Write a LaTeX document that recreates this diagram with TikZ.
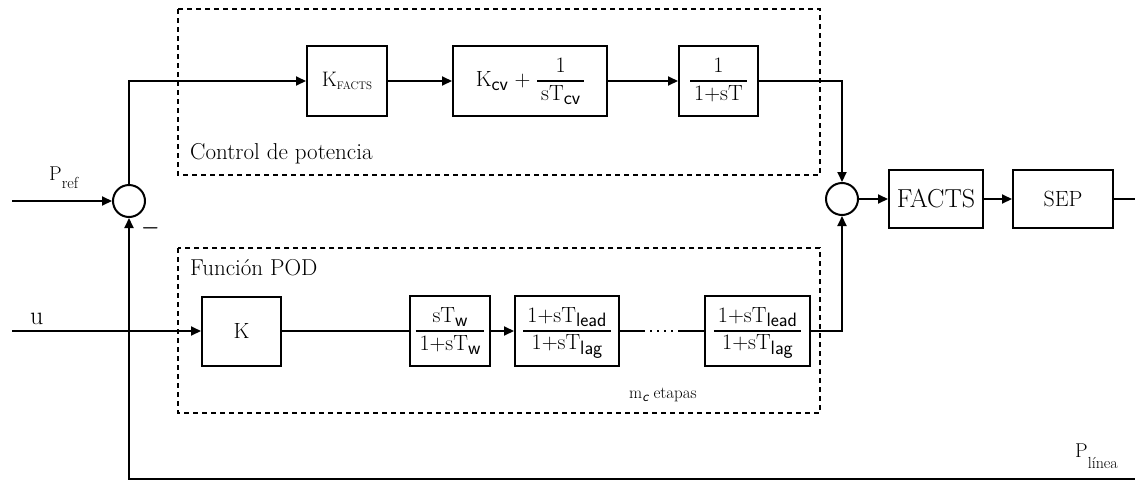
\documentclass[tikz,border=0pt]{standalone}
\usepackage{amsmath}
\usetikzlibrary{arrows.meta}
\setlength\arrayrulewidth{1.4pt}
\renewcommand\arraystretch{1.05}
% sans subscript, lowered and reduced
\newcommand\ssub[1]{\raisebox{-.45ex}{\scalebox{.88}{\sffamily #1}}}
% serif subscript for signal names
\newcommand\tsub[2][1ex]{\raisebox{-#1}{\scalebox{.8}{#2}}}
% stacked transfer-function fraction
\newcommand\fr[2]{\begin{tabular}{@{\hspace{4pt}}c@{\hspace{4pt}}}#1\\\hline #2\end{tabular}}
\tikzset{
  blk/.style={draw, line width=2pt, inner sep=0pt, minimum height=70pt,
              font=\fontsize{22}{25}\selectfont},
  sumj/.style={draw, circle, line width=2pt, minimum size=32pt, inner sep=0pt},
  wire/.style={line width=2pt},
  arr/.style={wire, -{Triangle[length=10pt,width=9pt]}},
  grp/.style={line width=2pt, dash pattern=on 5pt off 4pt},
  lbl/.style={inner sep=0pt, font=\fontsize{23}{26}\selectfont},
  sig/.style={inner sep=0pt, font=\fontsize{20}{23}\selectfont},
}
\begin{document}
\begin{tikzpicture}[x=1pt,y=-1pt]
\useasboundingbox (0,0) rectangle (1135,482);

% dashed group frames
\draw[grp] (178,9) rectangle (820,175);
\draw[grp] (178,248) rectangle (820,413);
\node[lbl,anchor=base west] (lc) at (190,159) {Control de potencia};
\node[lbl,anchor=base west] (lp) at (190,275) {Función POD};

% power control chain
\node[blk,minimum width=80pt,font=\fontsize{21}{23}\selectfont] (kf) at (347,81)
  {K\raisebox{-.35ex}{\fontsize{11}{11}\selectfont FACTS}};
\node[blk,minimum width=154pt] (kcv) at (530,81) {K\ssub{cv} + \fr{1}{sT\ssub{cv}}};
\node[blk,minimum width=79pt] (g3) at (718.5,81) {\fr{1}{1+sT}};

% summing junctions
\node[sumj] (s1) at (129,201) {};
\node[sumj] (s2) at (842,199) {};

% plant
\node[blk,minimum width=94pt,minimum height=58pt,font=\fontsize{26}{28}\selectfont] (facts) at (936,199) {FACTS};
\node[blk,minimum width=100pt,minimum height=58pt,font=\fontsize{22}{24}\selectfont] (sep) at (1063,199) {SEP};

% POD chain
\node[blk,minimum width=79pt,minimum height=69pt] (kb) at (241.5,331) {K};
\node[blk,minimum width=80pt] (tw) at (450,331) {\fr{sT\ssub{w}}{1+sT\ssub{w}}};
\node[blk,minimum width=104pt] (ll1) at (567,331) {\fr{1+sT\ssub{lead}}{1+sT\ssub{lag}}};
\node[blk,minimum width=105pt] (ll2) at (757.5,331) {\fr{1+sT\ssub{lead}}{1+sT\ssub{lag}}};

% free ends
\coordinate (pin) at (12,201);
\coordinate (uin) at (12,331);
\coordinate (out) at (1135,199);
\coordinate (pl) at (1135,479);
\coordinate (fb) at (129,479);
\coordinate (d1) at (643,331);
\coordinate (d2) at (680,331);

% connections
\draw[arr] (pin) -- (s1);
\draw[arr] (s1) |- (kf);
\draw[arr] (kf) -- (kcv);
\draw[arr] (kcv) -- (g3);
\draw[arr] (g3) -| (s2);
\draw[arr] (s2) -- (facts);
\draw[arr] (facts) -- (sep);
\draw[wire] (sep) -- (out);
\draw[arr] (uin) -- (kb);
\draw[wire] (kb) -- (tw);
\draw[arr] (tw) -- (ll1);
\draw[wire] (ll1) -- (d1);
\draw[wire, dash pattern=on 2pt off 5pt] (d1) -- (d2);
\draw[wire] (d2) -- (ll2);
\draw[arr] (ll2) -| (s2);
\draw[arr] (pl) -- (fb) -- (s1);

% signal labels
\node[sig,anchor=base west] (pref) at (49,180) {P\tsub{ref}};
\node[sig,anchor=base west,font=\fontsize{26}{28}\selectfont] (u) at (30,324) {u};
\node[sig,anchor=base west] (plin) at (1075,457) {P\tsub[1.3ex]{línea}};
\node[inner sep=0pt,anchor=base west,font=\fontsize{17}{19}\selectfont] (mc) at (629,398)
  {m\raisebox{-.5ex}{\scalebox{.85}{\sffamily\itshape c}} etapas};
\node[inner sep=0pt,font=\fontsize{20}{20}\selectfont\boldmath] (minus) at (150.5,228) {$-$};
\end{tikzpicture}
\end{document}
